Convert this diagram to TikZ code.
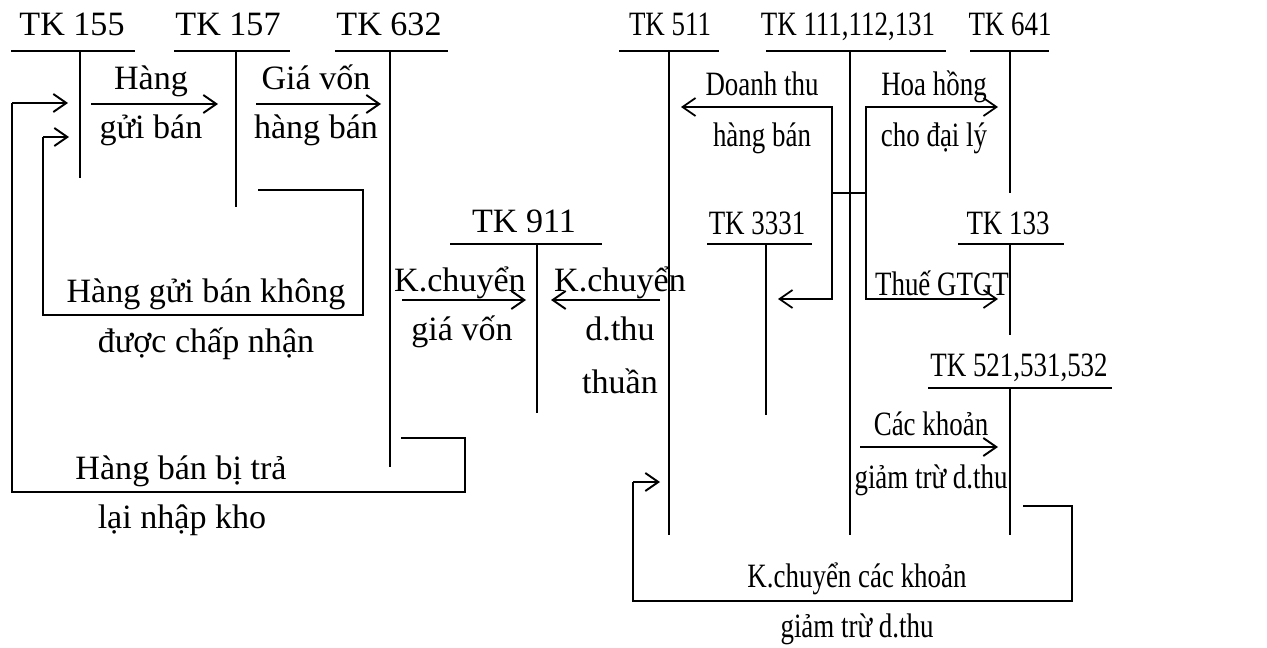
\documentclass[tikz,border=0pt]{standalone}
\usepackage{fontspec}
\usepackage{graphicx}
\setmainfont{Liberation Serif}
\usetikzlibrary{arrows.meta}
\newcommand{\Rz}[1]{\scalebox{0.79}[1]{#1}}
\begin{document}
\begin{tikzpicture}[x=0.02cm,y=-0.02cm,
  lbl/.style={inner sep=0pt, anchor=base, font=\fontsize{19.4}{23}\selectfont},
  hline/.style={line width=1.1pt},
  vline/.style={line width=0.8pt},
  arr/.style={line width=1.1pt, -{Straight Barb[length=0.26cm,width=0.36cm]}},
  arrb/.style={line width=1pt, {Straight Barb[length=0.26cm,width=0.36cm]}-{Straight Barb[length=0.26cm,width=0.36cm]}},
  loopline/.style={line width=1pt},
]
\useasboundingbox (0,0) rectangle (1267,648);

% ---------- T accounts (left) ----------
\node[lbl] (t155) at (72,36) {TK 155};
\coordinate (a155l) at (11,51); \coordinate (a155r) at (135,51);
\coordinate (a155t) at (80,51); \coordinate (a155b) at (80,178);
\draw[hline] (a155l) -- (a155r); \draw[vline] (a155t) -- (a155b);

\node[lbl] (t157) at (228,36) {TK 157};
\coordinate (a157l) at (174,51); \coordinate (a157r) at (290,51);
\coordinate (a157t) at (236,51); \coordinate (a157b) at (236,207);
\draw[hline] (a157l) -- (a157r); \draw[vline] (a157t) -- (a157b);

\node[lbl] (t632) at (389,36) {TK 632};
\coordinate (a632l) at (335,51); \coordinate (a632r) at (448,51);
\coordinate (a632t) at (390,51); \coordinate (a632b) at (390,467);
\draw[hline] (a632l) -- (a632r); \draw[vline] (a632t) -- (a632b);

\node[lbl] (t911) at (524,233) {TK 911};
\coordinate (a911l) at (450,244); \coordinate (a911r) at (602,244);
\coordinate (a911t) at (537,244); \coordinate (a911b) at (537,413);
\draw[hline] (a911l) -- (a911r); \draw[vline] (a911t) -- (a911b);

% ---------- left arrows ----------
\coordinate (h1s) at (91,104); \coordinate (h1e) at (218,104);
\draw[arr] (h1s) -- (h1e);
\node[lbl] (lh1a) at (151,90) {Hàng};
\node[lbl] (lh1b) at (151,139) {gửi bán};

\coordinate (h2s) at (256,104); \coordinate (h2e) at (381,104);
\draw[arr] (h2s) -- (h2e);
\node[lbl] (lh2a) at (316,90) {Giá vốn};
\node[lbl] (lh2b) at (316,139) {hàng bán};

% outer return loop (632 -> 155)
\coordinate (o1) at (401,438); \coordinate (o2) at (465,438);
\coordinate (o3) at (465,492); \coordinate (o4) at (12,492);
\coordinate (o5) at (12,103); \coordinate (o6) at (68,103);
\draw[loopline] (o1) -- (o2) -- (o3) -- (o4) -- (o5);
\draw[arr] (o5) -- (o6);
\node[lbl] (lo1) at (181,479) {Hàng bán bị trả};
\node[lbl] (lo2) at (182,528) {lại nhập kho};

% inner return loop (157 -> 155)
\coordinate (i1) at (258,190); \coordinate (i2) at (363,190);
\coordinate (i3) at (363,315); \coordinate (i4) at (43,315);
\coordinate (i5) at (43,137); \coordinate (i6) at (69,137);
\draw[loopline] (i1) -- (i2) -- (i3) -- (i4) -- (i5);
\draw[arr] (i5) -- (i6);
\node[lbl] (li1) at (206,303) {Hàng gửi bán không};
\node[lbl] (li2) at (206,353) {được chấp nhận};

% 911 arrows
\coordinate (k1s) at (402,300); \coordinate (k1e) at (526,300);
\draw[arr] (k1s) -- (k1e);
\node[lbl] (lk1a) at (460,292) {K.chuyển};
\node[lbl] (lk1b) at (462,340) {giá vốn};

\coordinate (k2s) at (660,300); \coordinate (k2e) at (551,300);
\draw[arr] (k2s) -- (k2e);
\node[lbl] (lk2a) at (620,292) {K.chuyển};
\node[lbl] (lk2b) at (620,340) {d.thu};
\node[lbl] (lk2c) at (620,393) {thuần};

% ---------- T accounts (right) ----------
\node[lbl] (t511) at (670,36) {\Rz{TK 511}};
\coordinate (a511l) at (619,51); \coordinate (a511r) at (719,51);
\coordinate (a511t) at (669,51); \coordinate (a511b) at (669,535);
\draw[hline] (a511l) -- (a511r); \draw[vline] (a511t) -- (a511b);

\node[lbl] (t111) at (848,36) {\Rz{TK 111,112,131}};
\coordinate (a111l) at (766,51); \coordinate (a111r) at (946,51);
\coordinate (a111t) at (850,51); \coordinate (a111b) at (850,535);
\draw[hline] (a111l) -- (a111r); \draw[vline] (a111t) -- (a111b);

\node[lbl] (t641) at (1010,36) {\Rz{TK 641}};
\coordinate (a641l) at (970,51); \coordinate (a641r) at (1049,51);
\coordinate (a641t) at (1010,51); \coordinate (a641b) at (1010,193);
\draw[hline] (a641l) -- (a641r); \draw[vline] (a641t) -- (a641b);

\node[lbl] (t3331) at (757,235) {\Rz{TK 3331}};
\coordinate (a3331l) at (707,244); \coordinate (a3331r) at (812,244);
\coordinate (a3331t) at (766,244); \coordinate (a3331b) at (766,415);
\draw[hline] (a3331l) -- (a3331r); \draw[vline] (a3331t) -- (a3331b);

\node[lbl] (t133) at (1008,235) {\Rz{TK 133}};
\coordinate (a133l) at (958,244); \coordinate (a133r) at (1064,244);
\coordinate (a133t) at (1010,244); \coordinate (a133b) at (1010,335);
\draw[hline] (a133l) -- (a133r); \draw[vline] (a133t) -- (a133b);

\node[lbl] (t521) at (1019,377) {\Rz{TK 521,531,532}};
\coordinate (a521l) at (928,388); \coordinate (a521r) at (1112,388);
\coordinate (a521t) at (1010,388); \coordinate (a521b) at (1010,535);
\draw[hline] (a521l) -- (a521r); \draw[vline] (a521t) -- (a521b);

% ---------- right arrows ----------
\coordinate (d511) at (681,107); \coordinate (b1t) at (832,107);
\coordinate (b1b) at (832,299); \coordinate (d3331) at (778,299);
\draw[arrb] (d511) -- (b1t) -- (b1b) -- (d3331);
\coordinate (d641) at (998,107); \coordinate (b2t) at (866,107);
\coordinate (b2b) at (866,299); \coordinate (d133) at (998,299);
\draw[arrb] (d641) -- (b2t) -- (b2b) -- (d133);
\coordinate (c1) at (832,193); \coordinate (c2) at (866,193);
\draw[loopline] (c1) -- (c2);

\node[lbl] (ld1) at (762,96) {\Rz{Doanh thu}};
\node[lbl] (ld2) at (762,147) {\Rz{hàng bán}};
\node[lbl] (lh1) at (934,96) {\Rz{Hoa hồng}};
\node[lbl] (lh2) at (934,147) {\Rz{cho đại lý}};
\node[lbl] (lt1) at (942,296) {\Rz{Thuế GTGT}};

\coordinate (g1s) at (860,447); \coordinate (g1e) at (998,447);
\draw[arr] (g1s) -- (g1e);
\node[lbl] (lg1) at (931,435) {\Rz{Các khoản}};
\node[lbl] (lg2) at (931,488) {\Rz{giảm trừ d.thu}};

\coordinate (p1) at (1023,506); \coordinate (p2) at (1072,506);
\coordinate (p3) at (1072,601); \coordinate (p4) at (633,601);
\coordinate (p5) at (633,482); \coordinate (p6) at (660,482);
\draw[loopline] (p1) -- (p2) -- (p3) -- (p4) -- (p5);
\draw[arr] (p5) -- (p6);
\node[lbl] (lp1) at (857,587) {\Rz{K.chuyển các khoản}};
\node[lbl] (lp2) at (857,637) {\Rz{giảm trừ d.thu}};
\end{tikzpicture}
\end{document}
